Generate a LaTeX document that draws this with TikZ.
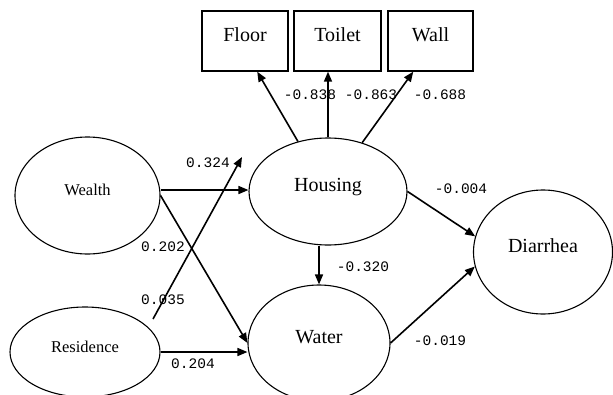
\documentclass[tikz,border=0pt]{standalone}
\usepackage{fontspec}
\setmainfont{Liberation Serif}
\newfontfamily\labfont{Liberation Mono}
\usetikzlibrary{shapes.geometric,arrows.meta,calc}
\begin{document}
\begin{tikzpicture}[x=1pt,y=-1pt,
  latent/.style={draw,ellipse,line width=1.1pt,inner sep=0pt,text height=0pt,text depth=0pt,font=\fontsize{20}{24}\selectfont},
  smalllatent/.style={latent,font=\fontsize{16.5}{20}\selectfont},
  indic/.style={draw,rectangle,line width=1.3pt,inner sep=0pt,minimum width=86pt,minimum height=60pt,text height=0pt,text depth=0pt,font=\fontsize{20}{24}\selectfont},
  path/.style={line width=1.6pt,-{Triangle[length=10pt,width=8pt]}},
  coef/.style={inner sep=0pt,font=\labfont\fontsize{14.5}{16}\selectfont}]
\clip (0,0) rectangle (613,394);
\fill[white] (0,0) rectangle (613,394);
% indicators
\node[indic] (floor) at (245,41) {Floor};
\node[indic,minimum width=87pt] (toilet) at (337.5,41) {Toilet};
\node[indic,minimum width=85pt] (wall) at (430.5,41) {Wall};
% latent variables
\node[latent,minimum width=158pt,minimum height=107pt] (housing) at (328,191.5) {Housing};
\node[latent,minimum width=142pt,minimum height=116pt] (water) at (319,343) {Water};
\node[smalllatent,minimum width=145pt,minimum height=117pt] (wealth) at (87.5,195.5) {Wealth};
\node[smalllatent,minimum width=150pt,minimum height=90pt] (residence) at (85,352) {Residence};
\node[latent,minimum width=139pt,minimum height=124pt] (diarrhea) at (543,252) {Diarrhea};
% free ends
\coordinate (resstart) at (153,319);
\coordinate (resend) at (242,157);
\coordinate (wealthout) at ($(wealth.east)+(0,-5.5)$);
% housing -> indicators
\draw[path] (housing.121) -- ($(floor.south west)!0.64!(floor.south east)$);
\draw[path] (housing.north) -- (housing.north |- toilet.south);
\draw[path] (housing.55) -- ($(wall.south west)!0.3!(wall.south east)$);
% structural paths
\draw[path] (wealthout) -- (wealthout -| housing.west);
\draw[path] (wealth.east) -- (water.west);
\draw[path] (resstart) -- (resend);
\draw[path] (residence.east) -- (residence.east -| water.west);
\draw[path] (water.north |- housing.south) -- (water.north);
\draw[path] (housing.east) -- (diarrhea.167);
\draw[path] (water.east) -- (diarrhea.192);
% coefficients
\node[coef] (c1) at (310,95) {-0.838};
\node[coef] (c2) at (371,95) {-0.863};
\node[coef] (c3) at (440,95) {-0.688};
\node[coef] (c4) at (208,163) {0.324};
\node[coef] (c5) at (163,247) {0.202};
\node[coef] (c6) at (163,300) {0.035};
\node[coef] (c7) at (193,364) {0.204};
\node[coef] (c8) at (461,189) {-0.004};
\node[coef] (c9) at (363,267) {-0.320};
\node[coef] (c10) at (440,341) {-0.019};
\end{tikzpicture}
\end{document}
